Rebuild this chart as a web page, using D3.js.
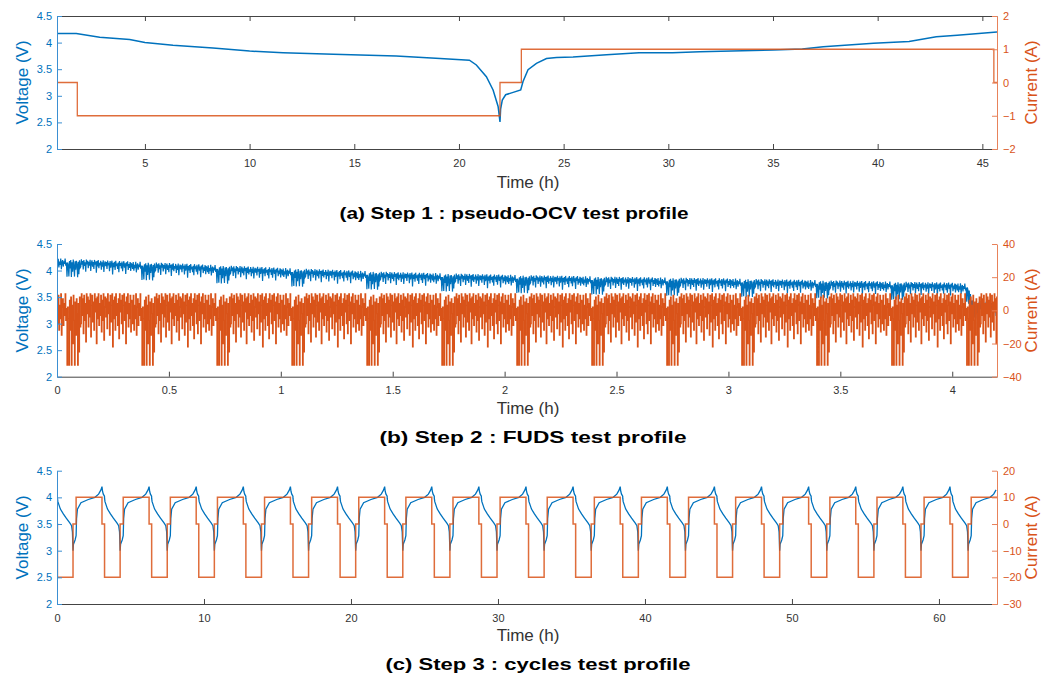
<!DOCTYPE html>
<html>
<head>
<meta charset="utf-8">
<script src="https://cdn.jsdelivr.net/npm/d3@7"></script>
<style>
  body { margin: 0; background: #fff; }
  svg { font-family: Arial, "Liberation Sans", Helvetica, sans-serif; }
</style>
</head>
<body>
<svg id="chart" width="1056" height="679"></svg>
<script>
// ---- step 1 : pseudo-OCV (voltage curve + step current)
const ocvTime = [0.8, 1.72, 2.84, 4.27, 5.0, 6.34, 8.25, 10, 11.6, 14, 17, 19.1, 20.5, 20.83, 21.31, 21.63, 21.87, 21.96,
  21.99, 22.07, 22.23, 22.55, 22.95, 23.06, 23.3, 23.7, 24.18, 24.66, 25.45, 27.05, 28.6, 30.2, 31.5,
  35.0, 36.4, 37.4, 39.8, 41.5, 42.8, 43.8, 45.7];
const ocvVolt = [4.17, 4.17, 4.10, 4.06, 4.00, 3.95, 3.90, 3.84, 3.81, 3.78, 3.75, 3.70, 3.67, 3.58, 3.36, 3.11, 2.80, 2.51,
  2.75, 2.92, 3.02, 3.06, 3.11, 3.27, 3.49, 3.61, 3.70, 3.72, 3.73, 3.77, 3.81, 3.81, 3.83,
  3.86, 3.88, 3.92, 3.99, 4.02, 4.11, 4.14, 4.20];
const ocvCurTime = [0.8, 1.77, 21.96, 22.98, 45.55, 45.7];
const ocvCurVal = [0, -1, 0, 1, 0, 0];

// ---- step 2 : FUDS (one drive cycle, repeated through the test)
const fudsPeriod = 0.335;
const fudsEnd = 4.2;
const fudsCurrent = [
  5, -8, 9, -12, 3, -5, 10, -15, 2, 7, -9, 4, -3, 10, -6, 1,
  -33, 2, -5, -33, 6, -12, 8, -33, 3, -20, 9, -6, -33, 5, -15, 7, -2, -33, 4, -25, 8, -10,
  -8, 10, -3, 7, -14, 9, -6, 4, -19, 10,
  -2, 8, -10, 6, -4, 10, -16, 3, 9, -7,
  5, -12, 10, -1, 7, -20, 8, -5, 10, -9,
  4, -3, 9, -13, 6, -6, 10, -18, 2, 8,
  -4, 7, -11, 10, -2, 5, -15, 9, -7, 3,
  10, -22, 6, -5, 8, -12, 10, -3, 4, -9,
  7, -17, 10, -1, 6, -8, 9, -14, 3, 10,
  -6, 5, -20, 8, -2, 10, -10, 4, -5, 9,
  -13, 6];
const fudsVoltDip = [
  -0.05, -0.14, -0.01, -0.17, -0.06, -0.12, 0, -0.2, -0.07, -0.03, -0.15, -0.05, -0.1, 0, -0.13, -0.07,
  -0.34, -0.07, -0.12, -0.33, -0.04, -0.18, -0.02, -0.34, -0.06, -0.24, -0.01, -0.13, -0.33, -0.04, -0.2, -0.03, -0.1, -0.34, -0.05, -0.28, -0.02, -0.16,
  -0.14, 0, -0.1, -0.03, -0.19, -0.01, -0.12, -0.05, -0.23, 0,
  -0.09, -0.02, -0.16, -0.04, -0.11, 0, -0.21, -0.06, -0.01, -0.13,
  -0.04, -0.17, 0, -0.09, -0.03, -0.24, -0.02, -0.12, 0, -0.15,
  -0.05, -0.1, -0.01, -0.18, -0.04, -0.12, 0, -0.22, -0.07, -0.02,
  -0.11, -0.03, -0.16, 0, -0.09, -0.04, -0.2, -0.01, -0.13, -0.06,
  0, -0.26, -0.04, -0.12, -0.02, -0.17, 0, -0.1, -0.05, -0.15,
  -0.03, -0.21, 0, -0.09, -0.04, -0.14, -0.01, -0.19, -0.06, 0,
  -0.12, -0.04, -0.24, -0.02, -0.09, 0, -0.16, -0.05, -0.12, -0.01,
  -0.18, -0.04];
const fudsBaseTime = [0, 0.5, 1.0, 1.5, 2.0, 2.5, 3.0, 3.5, 4.0, 4.07, 4.09, 4.2];
const fudsBaseVolt = [4.23, 4.14, 4.05, 3.97, 3.92, 3.88, 3.85, 3.81, 3.77, 3.75, 3.45, 3.38];

// ---- step 3 : cycles (one charge/discharge cycle, repeated)
const cycPeriod = 3.205;
const cycStart = 0.03;
const cycCount = 20;
const cycEnd = 63.95;
const cycCurTime = [0, 1.06, 1.27, 3.03];
const cycCurVal = [-20, 0, 10, 0];
const cycVoltTime = [0, 0.03, 0.2, 0.4, 0.6, 0.84, 0.96, 1.02, 1.06, 1.09, 1.2, 1.27, 1.3, 1.36, 1.6, 2.1, 2.55, 2.8, 2.96, 3.03, 3.07, 3.12, 3.2];
const cycVoltVal = [3.98, 3.92, 3.78, 3.69, 3.61, 3.52, 3.47, 3.35, 3.0, 3.12, 3.2, 3.28, 3.6, 3.78, 3.9, 3.96, 4.0, 4.06, 4.14, 4.2, 4.11, 4.06, 4.02];

// axes text
const voltTicks = [2, 2.5, 3, 3.5, 4, 4.5];

const BLUE = "#0072BD", ORANGE = "#D95319";
const BLUE_AX = "#3b8fd2", ORANGE_AX = "#e8825a", GREY = "#444";
const X0 = 57, X1 = 997;

// build the series
const fudsI = [], fudsV = [];
const baseV = d3.scaleLinear().domain(fudsBaseTime).range(fudsBaseVolt);
const dt = fudsPeriod / fudsCurrent.length;
for (let c = 0; c * fudsPeriod < fudsEnd; c++) {
  fudsCurrent.forEach((v, i) => {
    const t = c * fudsPeriod + i * dt;
    if (t <= fudsEnd) {
      fudsI.push({t: t, v: v});
      fudsV.push({t: t, v: baseV(t) + fudsVoltDip[i]});
    }
  });
}
fudsI.push({t: fudsEnd, v: fudsI[fudsI.length - 1].v});

const cycI = [{t: 0, v: 0}], cycV = [];
for (let c = 0; c < cycCount; c++) {
  const s = cycStart + c * cycPeriod;
  cycCurTime.forEach((d, i) => { if (s + d <= cycEnd) cycI.push({t: s + d, v: cycCurVal[i]}); });
  cycVoltTime.forEach((d, i) => { if (s + d <= cycEnd) cycV.push({t: s + d, v: cycVoltVal[i]}); });
}
cycI.push({t: cycEnd, v: cycI[cycI.length - 1].v});

const panels = [
  {top: 16, bottom: 149, x: [0.8, 45.7], xt: d3.range(5, 46, 5), r: [-2, 2], rt: [-2, -1, 0, 1, 2], box: true,
   volt: ocvTime.map((t, i) => ({t: t, v: ocvVolt[i]})),
   cur: ocvCurTime.map((t, i) => ({t: t, v: ocvCurVal[i]})),
   wV: 1.5, wI: 1.3, op: 0.85, timeY: 188, cap: "(a) Step 1 : pseudo-OCV test profile", capX: 514, capY: 219, capW: 349},
  {top: 244, bottom: 376.7, x: [0, 4.2], xt: d3.range(0, 4.01, 0.5), r: [-40, 40], rt: [-40, -20, 0, 20, 40],
   volt: fudsV, cur: fudsI, wV: 1.2, wI: 1.2, op: 1, timeY: 414, cap: "(b) Step 2 : FUDS test profile", capX: 533, capY: 443, capW: 307},
  {top: 470.7, bottom: 604, x: [0, cycEnd], xt: d3.range(0, 61, 10), r: [-30, 20], rt: [-30, -20, -10, 0, 10, 20],
   volt: cycV, cur: cycI, wV: 1.3, wI: 1.5, op: 0.85, timeY: 641, cap: "(c) Step 3 : cycles test profile", capX: 538, capY: 670, capW: 305}
];

const svg = d3.select("#chart");

panels.forEach((p, k) => {
  const x = d3.scaleLinear().domain(p.x).range([X0, X1]);
  const yL = d3.scaleLinear().domain([2, 4.5]).range([p.bottom, p.top]);
  const yR = d3.scaleLinear().domain(p.r).range([p.bottom, p.top]);

  svg.append("clipPath").attr("id", "clip" + k)
    .append("rect").attr("x", X0).attr("y", p.top).attr("width", X1 - X0).attr("height", p.bottom - p.top);

  const g = svg.append("g");
  const lines = g.append("g").attr("clip-path", "url(#clip" + k + ")");

  lines.append("path").datum(p.volt)
    .attr("d", d3.line().x(d => x(d.t)).y(d => yL(d.v)))
    .attr("fill", "none").attr("stroke", BLUE).attr("stroke-width", p.wV);

  lines.append("path").datum(p.cur)
    .attr("d", d3.line().x(d => x(d.t)).y(d => yR(d.v)).curve(d3.curveStepAfter))
    .attr("fill", "none").attr("stroke", ORANGE).attr("stroke-width", p.wI)
    .attr("stroke-opacity", p.op);

  // bottom axis
  const bx = g.append("g").attr("transform", `translate(0,${p.bottom})`)
    .call(d3.axisBottom(x).tickValues(p.xt).tickSizeInner(-5).tickSizeOuter(0).tickPadding(10)
      .tickFormat(d3.format("~g")));
  bx.select(".domain").attr("stroke", GREY);
  bx.selectAll(".tick line").attr("stroke", GREY);
  bx.selectAll("text").attr("fill", "#333").style("font-size", "11px");

  if (p.box) {
    const tx = g.append("g").attr("transform", `translate(0,${p.top})`)
      .call(d3.axisTop(x).tickValues(p.xt).tickSizeInner(-5).tickSizeOuter(0).tickFormat(""));
    tx.select(".domain").attr("stroke", GREY);
    tx.selectAll(".tick line").attr("stroke", GREY);
  }

  // left (voltage) axis
  const ly = g.append("g").attr("transform", `translate(${X0},0)`)
    .call(d3.axisLeft(yL).tickValues(voltTicks).tickSizeInner(-5).tickSizeOuter(0).tickPadding(5)
      .tickFormat(d3.format("~g")));
  ly.select(".domain").attr("stroke", BLUE_AX);
  ly.selectAll(".tick line").attr("stroke", BLUE_AX);
  ly.selectAll("text").attr("fill", BLUE).style("font-size", "11px");

  // right (current) axis
  const ry = g.append("g").attr("transform", `translate(${X1},0)`)
    .call(d3.axisRight(yR).tickValues(p.rt).tickSizeInner(-5).tickSizeOuter(0).tickPadding(6)
      .tickFormat(d3.format("~g")));
  ry.select(".domain").attr("stroke", ORANGE_AX);
  ry.selectAll(".tick line").attr("stroke", ORANGE_AX);
  ry.selectAll("text").attr("fill", ORANGE).style("font-size", "11px");

  const mid = (p.top + p.bottom) / 2;
  g.append("text").attr("transform", `translate(28,${mid}) rotate(-90)`)
    .attr("text-anchor", "middle").attr("fill", BLUE).style("font-size", "17px")
    .text("Voltage (V)");
  g.append("text").attr("transform", `translate(1037,${mid}) rotate(-90)`)
    .attr("text-anchor", "middle").attr("fill", ORANGE).style("font-size", "17px")
    .text("Current (A)");

  g.append("text").attr("x", 528).attr("y", p.timeY)
    .attr("text-anchor", "middle").attr("fill", "#333").style("font-size", "17px")
    .text("Time (h)");

  g.append("text").attr("x", p.capX - p.capW / 2).attr("y", p.capY)
    .attr("textLength", p.capW).attr("lengthAdjust", "spacingAndGlyphs")
    .attr("fill", "#000").style("font-size", "17px").style("font-weight", "bold")
    .text(p.cap);
});
</script>
</body>
</html>
